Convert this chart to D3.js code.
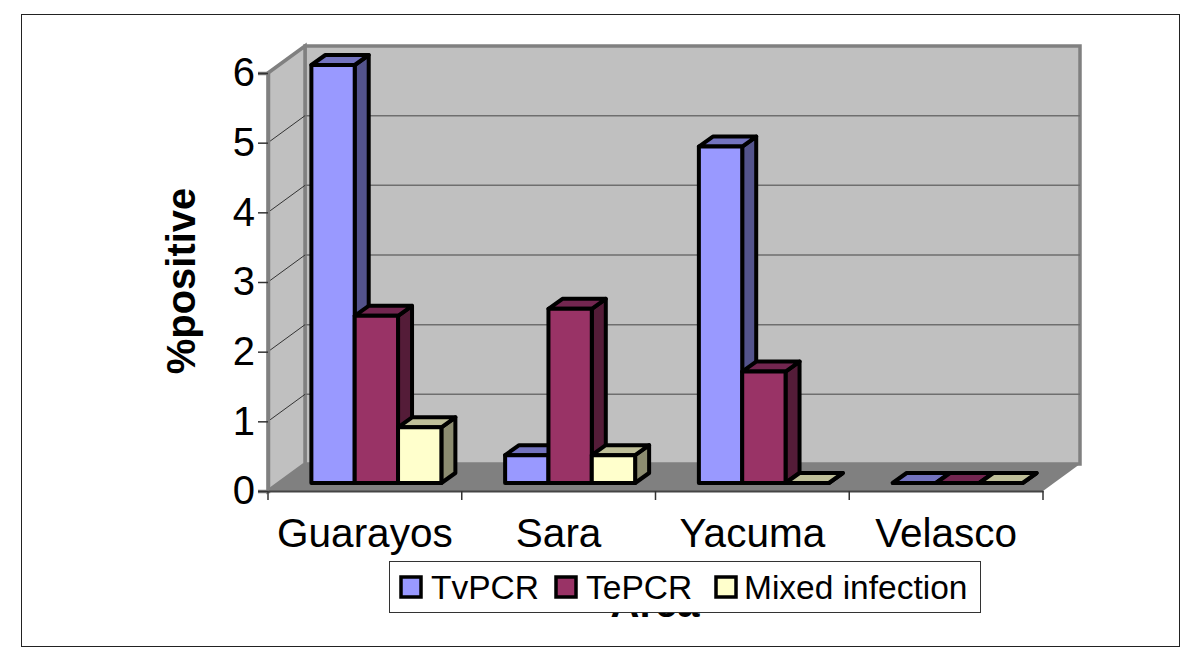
<!DOCTYPE html>
<html>
<head>
<meta charset="utf-8">
<script src="https://cdnjs.cloudflare.com/ajax/libs/d3/7.8.5/d3.min.js"></script>
<style>
  html, body { margin: 0; padding: 0; background: #fff; }
  svg { display: block; font-family: "Liberation Sans", Arial, sans-serif; }
</style>
</head>
<body>
<svg id="chart" width="1200" height="651"></svg>
<script>
const areas = ["Guarayos", "Sara", "Yacuma", "Velasco"];
const seriesNames = ["TvPCR", "TePCR", "Mixed infection"];
const tvPcr = [6, 0.4, 4.83, 0];
const tePcr = [2.4, 2.5, 1.6, 0];
const mixedInfection = [0.8, 0.4, 0, 0];
const yTicks = [0, 1, 2, 3, 4, 5, 6];

const seriesValues = [tvPcr, tePcr, mixedInfection];
// front, top, side shades per series
const seriesColors = [
    ["#9999ff", "#7373bf", "#53538c"],
    ["#993366", "#732650", "#541c38"],
    ["#ffffcc", "#bfbf99", "#8c8c70"]
];

const svg = d3.select("#chart");

// outer frame
svg.append("rect")
    .attr("x", 21.5).attr("y", 14.5)
    .attr("width", 1158).attr("height", 632)
    .attr("fill", "#fff").attr("stroke", "#222").attr("stroke-width", 1);

// front plane of the 3D box, plus the depth offset of the back wall
const x = d3.scaleBand().domain(areas).range([268, 1043]);
const y = d3.scaleLinear().domain([0, 6]).range([491, 73]);
const depth = { x: 37, y: -27 };
const barShift = { x: 13.5, y: -8 };    // bars sit a little inside the box
const barDepth = { x: 14, y: -10 };

const inner = d3.scaleBand().domain(d3.range(3)).range([0, 130]);
const barX = a => x(a) + (x.bandwidth() - 132) / 2 + barShift.x - 1;

const poly = pts => pts.map(p => p.join(",")).join(" ");
const wallLine = "#808080";

// back wall
svg.append("rect")
    .attr("x", x.range()[0] + depth.x).attr("y", y(6) + depth.y)
    .attr("width", x.range()[1] - x.range()[0]).attr("height", y(0) - y(6))
    .attr("fill", "#c0c0c0").attr("stroke", wallLine).attr("stroke-width", 3.5);

// left wall
svg.append("polygon")
    .attr("points", poly([
        [268, y(0)], [268, y(6)],
        [268 + depth.x, y(6) + depth.y], [268 + depth.x, y(0) + depth.y]
    ]))
    .attr("fill", "#c0c0c0").attr("stroke", wallLine).attr("stroke-width", 3.5);

// floor
svg.append("polygon")
    .attr("points", poly([
        [268, y(0)], [1043, y(0)],
        [1043 + depth.x, y(0) + depth.y], [268 + depth.x, y(0) + depth.y]
    ]))
    .attr("fill", "#808080");

// gridlines on back and side walls
const grid = yTicks.slice(1, -1);
svg.append("g").selectAll("line").data(grid).join("line")
    .attr("x1", 268 + depth.x).attr("x2", 1043 + depth.x)
    .attr("y1", d => y(d) + depth.y).attr("y2", d => y(d) + depth.y)
    .attr("stroke", "#6e6e6e").attr("stroke-width", 1.5);
svg.append("g").selectAll("line").data(grid).join("line")
    .attr("x1", 268).attr("x2", 268 + depth.x)
    .attr("y1", d => y(d)).attr("y2", d => y(d) + depth.y)
    .attr("stroke", "#333").attr("stroke-width", 1);

// bars, painted left to right so later ones cover earlier side faces
const yBar = v => y(v) + barShift.y;
const marks = svg.append("g")
    .attr("stroke", "#000").attr("stroke-width", 4).attr("stroke-linejoin", "round");

areas.forEach((area, i) => {
    seriesValues.forEach((vals, s) => {
        const v = vals[i];
        const x0 = barX(area) + inner(s);
        const x1 = x0 + inner.bandwidth();
        const top = yBar(v);
        const base = yBar(0);
        const dx = barDepth.x, dy = barDepth.y;
        const colors = seriesColors[s];

        marks.append("polygon")
            .attr("points", poly([[x1, base], [x1, top], [x1 + dx, top + dy], [x1 + dx, base + dy]]))
            .attr("fill", colors[2]);
        marks.append("polygon")
            .attr("points", poly([[x0, top], [x1, top], [x1 + dx, top + dy], [x0 + dx, top + dy]]))
            .attr("fill", colors[1]);
        marks.append("rect")
            .attr("x", x0).attr("y", top)
            .attr("width", x1 - x0).attr("height", base - top)
            .attr("fill", colors[0]);
    });
});

// value axis
const yAxis = svg.append("g")
    .attr("transform", "translate(268,0)")
    .call(d3.axisLeft(y).tickValues(yTicks).tickSize(10).tickPadding(3).tickFormat(d3.format("d")));
yAxis.select(".domain").attr("stroke", wallLine).attr("stroke-width", 3.5);
yAxis.selectAll(".tick line").attr("stroke", "#333").attr("stroke-width", 1.5);
yAxis.selectAll("text")
    .attr("font-family", "Liberation Sans").attr("font-size", 40).attr("fill", "#000");

// category axis
const xAxis = svg.append("g")
    .attr("transform", `translate(0,${y(0)})`)
    .call(d3.axisBottom(x).tickSize(0).tickPadding(27));
xAxis.select(".domain").attr("stroke", "#444").attr("stroke-width", 2);
xAxis.selectAll("text")
    .attr("font-family", "Liberation Sans").attr("font-size", 40.5).attr("fill", "#000");
svg.append("g").selectAll("line")
    .data(areas.map(a => x(a)).concat([x.range()[1]]))
    .join("line")
    .attr("x1", d => d).attr("x2", d => d)
    .attr("y1", y(0)).attr("y2", y(0) + 9)
    .attr("stroke", "#333").attr("stroke-width", 1.5);

// axis titles
svg.append("text")
    .attr("transform", "translate(195,281) rotate(-90)")
    .attr("text-anchor", "middle")
    .attr("font-size", 40).attr("font-weight", "bold")
    .text("%positive");
svg.append("text")
    .attr("x", 655).attr("y", 617)
    .attr("text-anchor", "middle")
    .attr("font-size", 40).attr("font-weight", "bold")
    .text("Area");

// legend
const legend = svg.append("g");
legend.append("rect")
    .attr("x", 389.5).attr("y", 561.5)
    .attr("width", 591).attr("height", 51)
    .attr("fill", "#fff").attr("stroke", "#333").attr("stroke-width", 1);
const swatchX = [401, 556, 716];
const labelX = [431, 586, 744];
seriesNames.forEach((name, s) => {
    legend.append("rect")
        .attr("x", swatchX[s]).attr("y", 577)
        .attr("width", 20).attr("height", 20)
        .attr("fill", seriesColors[s][0])
        .attr("stroke", "#000").attr("stroke-width", 3.5);
    legend.append("text")
        .attr("x", labelX[s]).attr("y", 599)
        .attr("font-size", 33.5)
        .text(name);
});
</script>
</body>
</html>
